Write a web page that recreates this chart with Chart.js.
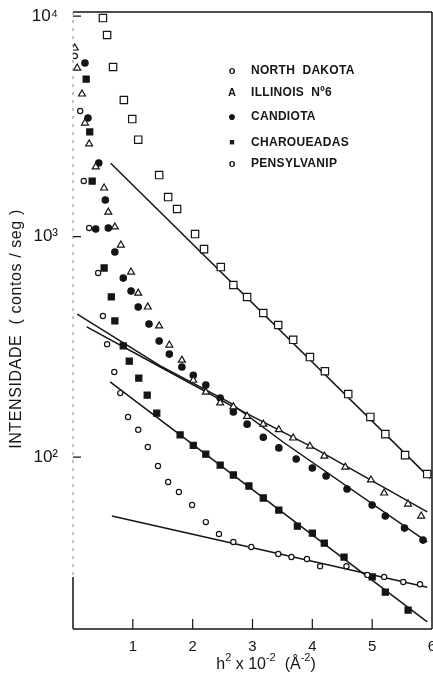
<!DOCTYPE html>
<html>
<head>
<meta charset="utf-8">
<script src="https://cdn.jsdelivr.net/npm/chart.js@4.4.1/dist/chart.umd.min.js"></script>
<style>
  html, body { margin: 0; padding: 0; background: #fff; }
  #grafico { display: block; }
</style>
</head>
<body>
<canvas id="grafico" width="433" height="679"></canvas>
<script>
// eixo x: h^2 x 10^-2 ; eixo y: intensidade (contos/seg), escala log
const northDakotaX = [0.03, 0.12, 0.18, 0.27, 0.42, 0.50, 0.57, 0.69, 0.79, 0.92, 1.09, 1.25, 1.42, 1.59, 1.77, 1.99, 2.22, 2.44, 2.68, 2.98, 3.43, 3.65, 3.91, 4.13, 4.57, 4.92, 5.20, 5.52, 5.80];
const northDakotaY = [6590, 3710, 1785, 1093, 683, 436, 325, 243, 195, 152, 133, 111, 91, 77, 69.4, 60.6, 50.7, 44.8, 41.2, 39.1, 36.3, 35.2, 34.5, 32.0, 32.0, 29.2, 28.6, 27.1, 26.5];

const illinoisX = [0.03, 0.07, 0.15, 0.20, 0.27, 0.38, 0.52, 0.59, 0.70, 0.80, 0.97, 1.09, 1.25, 1.44, 1.61, 1.82, 2.01, 2.22, 2.46, 2.68, 2.91, 3.18, 3.44, 3.68, 3.96, 4.20, 4.55, 4.98, 5.20, 5.60, 5.82];
const illinoisY = [7160, 5810, 4430, 3270, 2630, 2070, 1660, 1290, 1105, 915, 690, 554, 479, 393, 322, 275, 223, 197, 176, 169, 153, 141, 133, 122, 112, 101, 90, 78.7, 68.7, 61.2, 54.0];

const candiotaX = [0.20, 0.25, 0.43, 0.54, 0.38, 0.59, 0.70, 0.84, 0.97, 1.09, 1.27, 1.44, 1.61, 1.82, 2.01, 2.22, 2.46, 2.68, 2.91, 3.18, 3.44, 3.73, 4.00, 4.23, 4.58, 5.00, 5.22, 5.54, 5.85];
const candiotaY = [6120, 3450, 2155, 1465, 1081, 1093, 851, 648, 566, 479, 401, 336, 293, 256, 235, 212, 185, 160, 141, 123, 110, 98, 89.2, 82, 71.6, 60.6, 54, 47.6, 42];

const charqueadasX = [0.22, 0.28, 0.32, 0.52, 0.64, 0.70, 0.84, 0.94, 1.10, 1.24, 1.40, 1.79, 2.01, 2.22, 2.46, 2.68, 2.94, 3.18, 3.44, 3.75, 4.00, 4.20, 4.53, 5.00, 5.22, 5.60];
const charqueadasY = [5180, 2980, 1785, 720, 532, 414, 319, 272, 228, 191, 158, 126, 113, 103, 92, 82.9, 73.9, 65.2, 57.5, 48.6, 45.2, 40.7, 35.2, 28.6, 24.4, 20.2];

const pensilvaniaX = [0.50, 0.57, 0.67, 0.85, 0.99, 1.09, 1.44, 1.59, 1.74, 2.04, 2.19, 2.47, 2.68, 2.91, 3.18, 3.43, 3.68, 3.96, 4.21, 4.60, 4.97, 5.22, 5.55, 5.92];
const pensilvaniaY = [9790, 8200, 5870, 4160, 3410, 2750, 1900, 1510, 1333, 1026, 877, 727, 603, 532, 450, 397, 340, 284, 245, 193, 152, 127, 102, 83.7];

// retas ajustadas
const retaPenX = [0.63, 5.97];
const retaPenY = [2150, 80];
const retaIllX = [0.23, 1.46, 2.63, 4.00, 5.92];
const retaIllY = [389, 256, 172, 111, 56.4];
const retaCandX = [0.07, 1.46, 2.63, 3.51, 5.92];
const retaCandY = [445, 259, 176, 117, 41.2];
const retaCharX = [0.62, 5.92];
const retaCharY = [219, 17.9];
const retaNdX = [0.65, 5.92];
const retaNdY = [54, 25.7];

const xTickRotulos = ['', '1', '2', '3', '4', '5', '6'];
const yTickValores = [100, 1000, 10000];
const yTickRotulos = ['10²', '10³', '10⁴'];

const legendaNomes = ['NORTH  DAKOTA', 'ILLINOIS  Nº6', 'CANDIOTA', 'CHAROUEADAS', 'PENSYLVANIP'];
const legendaSimbolos = ['o', 'A', '●', '■', 'o'];

const tinta = '#151515';
const fonte = '"Liberation Sans", Arial, sans-serif';

function pontos(xs, ys) {
    return xs.map((x, i) => ({ x: x, y: ys[i] }));
}

function serie(xs, ys, estilo, raio, cheio) {
    return {
        data: pontos(xs, ys),
        pointStyle: estilo,
        pointRadius: raio,
        pointBorderWidth: 1.2,
        pointBorderColor: tinta,
        pointBackgroundColor: cheio ? tinta : '#fff',
        showLine: false
    };
}

function reta(xs, ys) {
    return {
        data: pontos(xs, ys),
        showLine: true,
        borderColor: tinta,
        borderWidth: 1.5,
        pointRadius: 0,
        tension: 0
    };
}

// texto com expoentes: partes [texto, eh_expoente]
function textoComExpoente(ctx, partes, cx, y) {
    const base = '16px ' + fonte;
    const sup = '11px ' + fonte;
    let total = 0;
    partes.forEach(p => { ctx.font = p[1] ? sup : base; total += ctx.measureText(p[0]).width; });
    let x = cx - total / 2;
    ctx.textAlign = 'left';
    partes.forEach(p => {
        ctx.font = p[1] ? sup : base;
        ctx.fillText(p[0], x, p[1] ? y - 7 : y);
        x += ctx.measureText(p[0]).width;
    });
}

const moldura = {
    id: 'moldura',
    afterDraw(chart) {
        const ctx = chart.ctx;
        const a = chart.chartArea;
        const sx = chart.scales.x;
        const sy = chart.scales.y;
        ctx.save();
        ctx.strokeStyle = tinta;
        ctx.lineWidth = 1.5;
        ctx.beginPath();
        ctx.moveTo(a.left, a.top); ctx.lineTo(a.right, a.top);
        ctx.moveTo(a.right, a.top); ctx.lineTo(a.right, a.bottom);
        ctx.moveTo(a.left, a.bottom); ctx.lineTo(a.right, a.bottom);
        ctx.moveTo(a.left, a.bottom - 52); ctx.lineTo(a.left, a.bottom);
        ctx.stroke();
        // eixo esquerdo quase apagado no original
        ctx.lineWidth = 1;
        ctx.strokeStyle = '#888';
        ctx.setLineDash([3, 5]);
        ctx.beginPath();
        ctx.moveTo(a.left, a.top); ctx.lineTo(a.left, a.bottom - 52);
        ctx.stroke();
        ctx.setLineDash([]);
        // marcas para dentro
        ctx.strokeStyle = tinta;
        ctx.lineWidth = 1.2;
        ctx.beginPath();
        for (let v = 1; v <= 5; v++) {
            const px = sx.getPixelForValue(v);
            ctx.moveTo(px, a.bottom); ctx.lineTo(px, a.bottom - 10);
        }
        yTickValores.forEach(v => {
            const py = sy.getPixelForValue(v);
            ctx.moveTo(a.left, py); ctx.lineTo(a.left + 8, py);
        });
        ctx.stroke();

        // legenda dentro do grafico
        const linhas = [71, 93, 117, 143, 164];
        const tamSimbolo = [11, 11, 14, 9, 11];
        ctx.fillStyle = tinta;
        ctx.textBaseline = 'middle';
        legendaNomes.forEach((nome, i) => {
            ctx.textAlign = 'center';
            ctx.letterSpacing = '0px';
            ctx.font = 'bold ' + tamSimbolo[i] + 'px ' + fonte;
            ctx.fillText(legendaSimbolos[i], 232, linhas[i]);
            ctx.textAlign = 'left';
            ctx.letterSpacing = '0.3px';
            ctx.font = 'bold 12px ' + fonte;
            ctx.fillText(nome, 251, linhas[i]);
        });

        // titulos dos eixos
        ctx.letterSpacing = '0.6px';
        ctx.font = '16px ' + fonte;
        ctx.textAlign = 'center';
        ctx.save();
        ctx.translate(17, 329);
        ctx.rotate(-Math.PI / 2);
        ctx.fillText('INTENSIDADE  ( contos / seg )', 0, 0);
        ctx.restore();
        ctx.letterSpacing = '0px';
        textoComExpoente(ctx, [['h', 0], ['2', 1], [' x ', 0], ['10', 0], ['-2', 1], ['  (', 0], ['Å', 0], ['-2', 1], [')', 0]], 266, 665);
        ctx.restore();
    }
};

const ctxGrafico = document.getElementById('grafico').getContext('2d');
const grafico = new Chart(ctxGrafico, {
    type: 'scatter',
    data: {
        datasets: [
            serie(northDakotaX, northDakotaY, 'circle', 2.6, false),
            serie(illinoisX, illinoisY, 'triangle', 4, false),
            serie(candiotaX, candiotaY, 'circle', 3.2, true),
            serie(charqueadasX, charqueadasY, 'rect', 4.3, true),
            serie(pensilvaniaX, pensilvaniaY, 'rect', 5.2, false),
            reta(retaPenX, retaPenY),
            reta(retaIllX, retaIllY),
            reta(retaCandX, retaCandY),
            reta(retaCharX, retaCharY),
            reta(retaNdX, retaNdY)
        ]
    },
    options: {
        responsive: false,
        animation: false,
        layout: { autoPadding: false, padding: { top: 12, right: 1, left: 0, bottom: 0 } },
        plugins: {
            legend: { display: false },
            tooltip: { enabled: false }
        },
        scales: {
            x: {
                type: 'linear',
                min: 0,
                max: 6,
                afterFit: s => { s.height = 50; s.paddingLeft = 0; s.paddingRight = 0; },
                grid: { display: false, drawTicks: false },
                border: { display: false },
                ticks: {
                    stepSize: 1,
                    padding: 9,
                    color: tinta,
                    font: { family: fonte, size: 15 },
                    callback: v => xTickRotulos[v]
                }
            },
            y: {
                type: 'logarithmic',
                min: 16.6,
                max: 10430,
                afterBuildTicks: s => { s.ticks = yTickValores.map(v => ({ value: v })); },
                afterFit: s => { s.width = 73; s.paddingTop = 0; s.paddingBottom = 0; },
                grid: { display: false, drawTicks: false },
                border: { display: false },
                ticks: {
                    padding: 15,
                    color: tinta,
                    font: { family: fonte, size: 17 },
                    callback: v => {
                        const i = yTickValores.indexOf(v);
                        return i >= 0 ? yTickRotulos[i] : '';
                    }
                }
            }
        }
    },
    plugins: [moldura]
});
</script>
</body>
</html>
